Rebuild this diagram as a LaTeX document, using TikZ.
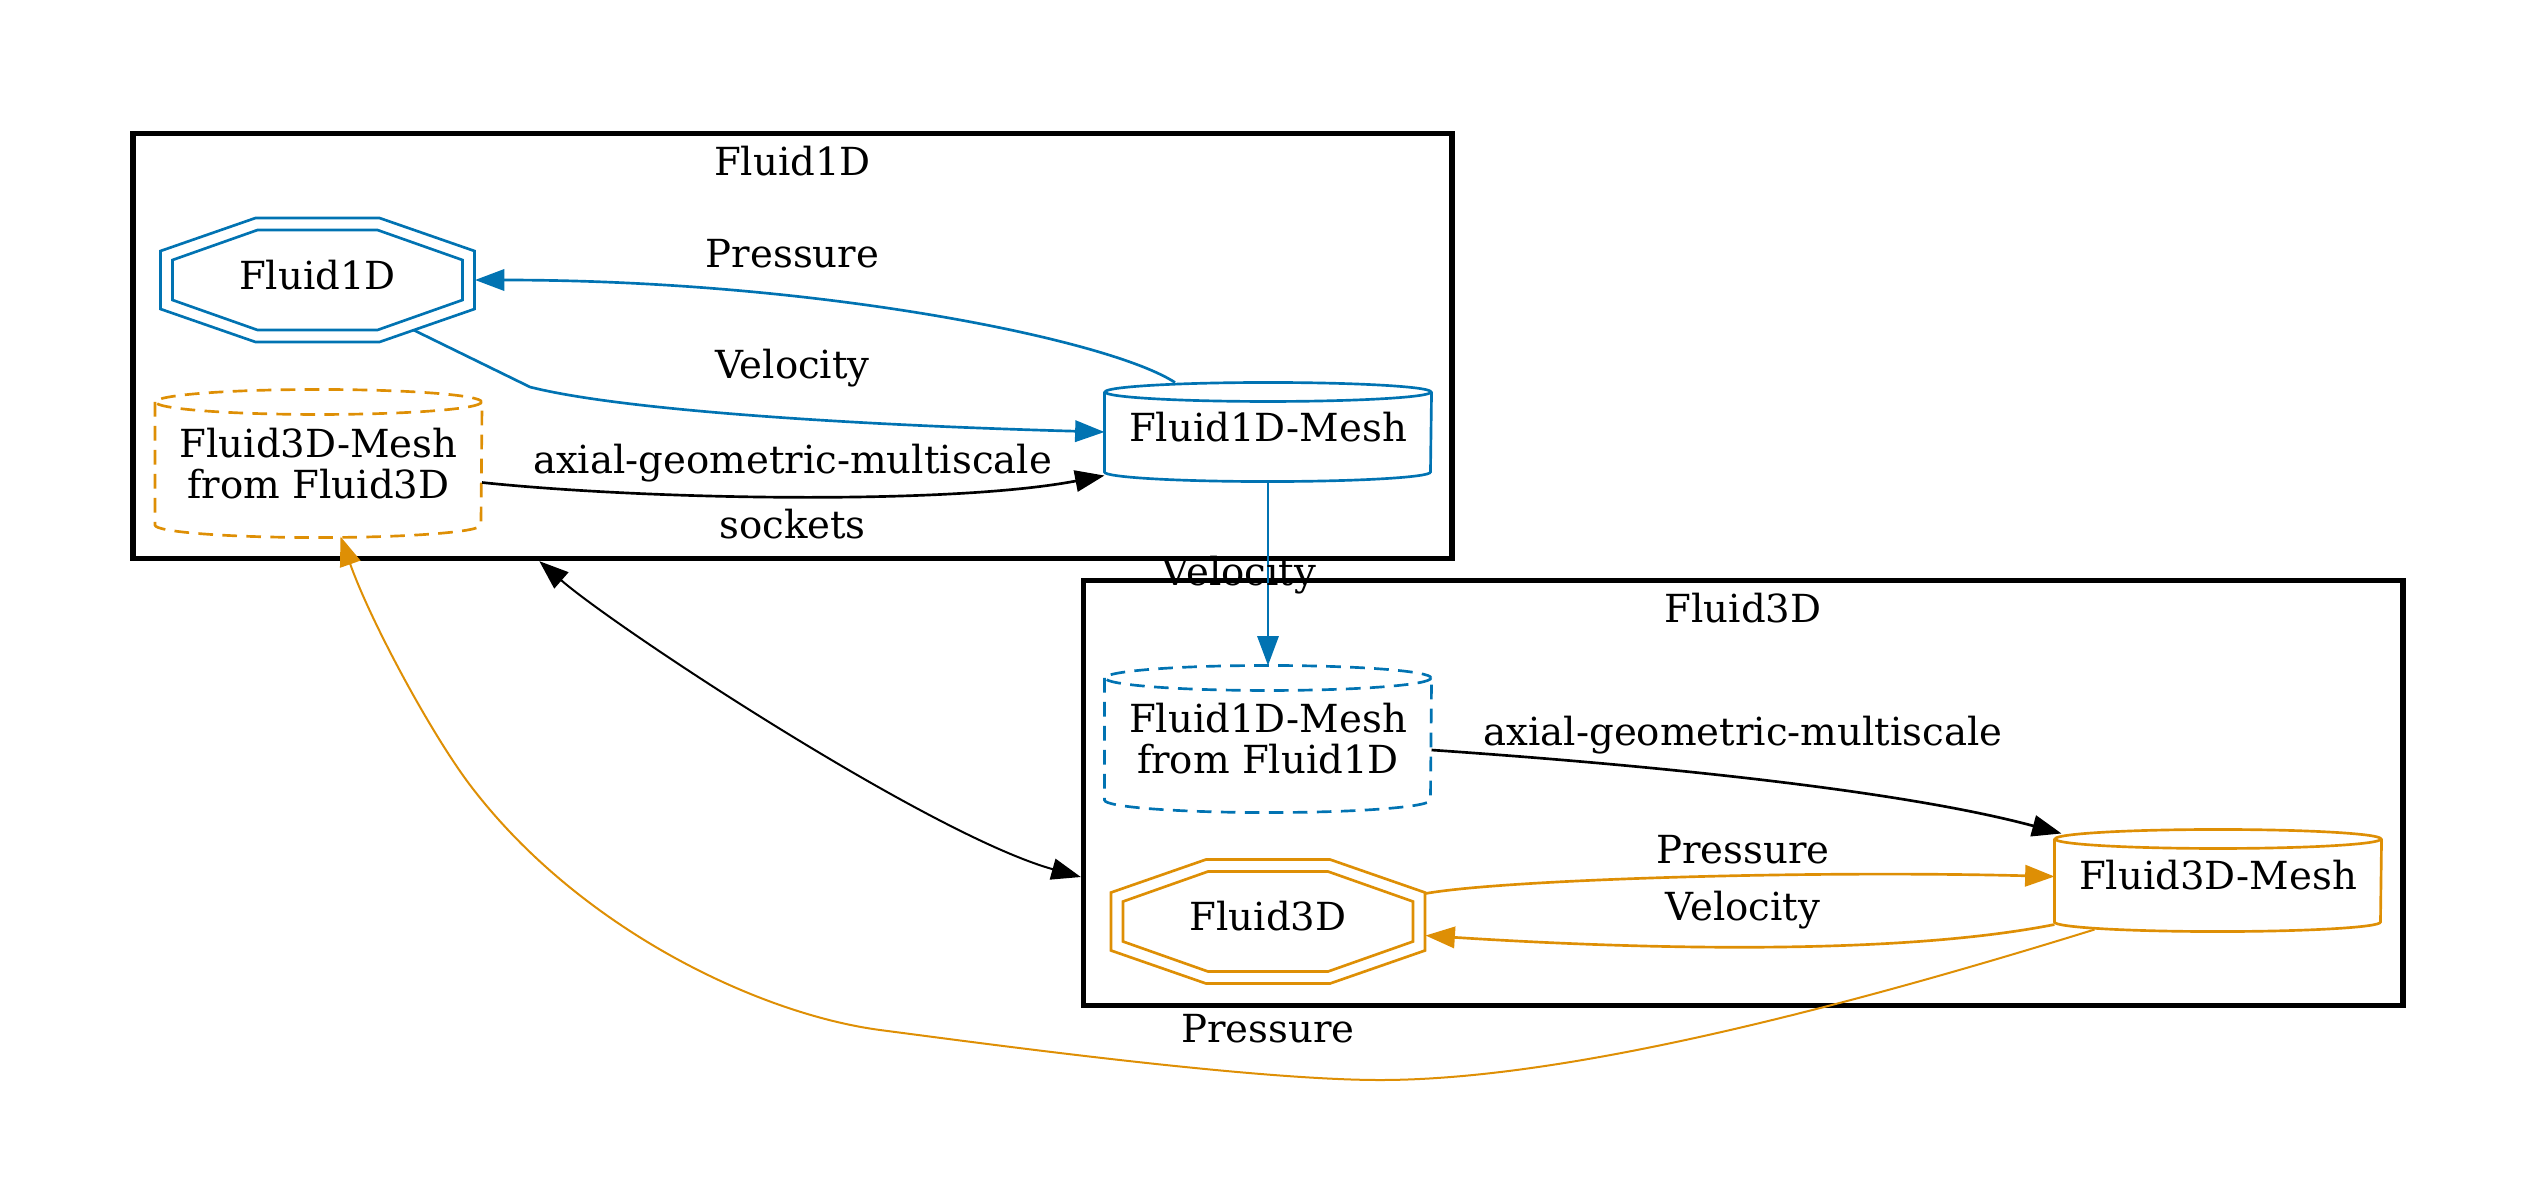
\documentclass[tikz,border=0pt]{standalone}
\usepackage{fontspec}
\setmainfont{DejaVu Serif}
\usepackage{tikz}
\usetikzlibrary{positioning,calc,fit,arrows.meta}
\definecolor{fblue}{HTML}{0173B2}
\definecolor{forange}{HTML}{DE8F05}
\newcommand{\pxu}{0.375pt}

\begin{document}
\begin{tikzpicture}[x=\pxu, y=-\pxu, >={Triangle[length=11pt,width=8pt]},
    every node/.style={font=\fontsize{14.5pt}{15.4pt}\selectfont, inner sep=0pt},
    oct/.style={minimum width=314*\pxu, minimum height=124*\pxu, text height=10.5pt, text depth=3.5pt},
    cyl/.style={minimum width=326*\pxu, text height=10.5pt, text depth=3.5pt},
    cyltwo/.style={minimum width=326*\pxu, align=center},
    cluster/.style={draw, line width=2pt},
    link/.style={->, line width=1pt},
    xlink/.style={line width=0.75pt},
    bluesolid/.style={draw=fblue, line width=1pt},
    orangesolid/.style={draw=forange, line width=1pt},
    bluedash/.style={draw=fblue, line width=1pt, dash pattern=on 5.5pt off 3.5pt},
    orangedash/.style={draw=forange, line width=1pt, dash pattern=on 5.5pt off 3.5pt}]
\useasboundingbox (0, 0) rectangle (2537, 1189);

\node[cluster, fit={(133, 133.5) (1452, 558.5)}] (cl1) {};
\node[cluster, fit={(1083.5, 580.5) (2403, 1005.5)}] (cl2) {};

\path (317.5, 280) node[oct] (f1) {Fluid1D};
\path (1268, 921.5) node[oct] (f3) {Fluid3D};
\path (1268, 432) node[cyl, minimum height=98*\pxu] (m1) {Fluid1D-Mesh};
\path (2218, 880.5) node[cyl, minimum height=101*\pxu] (m3) {Fluid3D-Mesh};
\path (318.5, 463.5) node[cyltwo, minimum height=147*\pxu] (m3f) {Fluid3D-Mesh\\from Fluid3D};
\path (1268, 739) node[cyltwo, minimum height=146*\pxu] (m1f) {Fluid1D-Mesh\\from Fluid1D};

\foreach \n/\c in {f1/fblue, f3/forange}{
    \draw[\c, line width=1pt] (\n.center) ++(-62, -62) -- ++(124, 0) -- ++(95, 33) -- ++(0, 58)
        -- ++(-95, 33) -- ++(-124, 0) -- ++(-95, -33) -- ++(0, -58) -- cycle;
    \draw[\c, line width=1pt] (\n.center) ++(-60, -50) -- ++(120, 0) -- ++(85, 30) -- ++(0, 40)
        -- ++(-85, 30) -- ++(-120, 0) -- ++(-85, -30) -- ++(0, -40) -- cycle;
};

\foreach \n/\s/\r in {m1/bluesolid/9.5, m3/orangesolid/9.5, m1f/bluedash/12.5, m3f/orangedash/12.5}{
    \draw[\s] ($(\n.north)+(0, \r)$) ellipse [x radius=163, y radius=\r];
    \draw[\s] ($(\n.north west)+(0, \r)$) -- ($(\n.south west)+(0, -\r)$)
        arc[start angle=180, end angle=0, x radius=163, y radius=\r] -- ($(\n.north east)+(0, \r)$);
};

% Fluid1D
\draw[link, fblue] ($(m1.north)+(-93, 0)$) .. controls (1110, 340) and (820, 280) .. (f1.east);
\draw[link, fblue] ($(f1.center)+(96, 50)$) -- (530, 387) .. controls (620, 410) and (850, 425) .. (m1.west);
\draw[link] ($(m3f.east)+(0, 19)$) .. controls (650, 500) and (950, 505) .. ($(m1.south west)+(0, -6)$);

% Fluid3D
\draw[link] ($(m1f.east)+(0, 11)$) .. controls (1650, 765) and (1900, 790) .. ($(m3.north west)+(7, 4)$);
\draw[link, forange] ($(f3.east)+(0, -28)$) .. controls (1500, 880) and (1800, 870) .. ($(m3.west)+(0, -4)$);
\draw[link, forange] ($(m3.west)+(0, 44)$) .. controls (1900, 955) and (1650, 950) .. ($(f3.east)+(0, 14)$);

\draw[xlink, fblue, ->] (m1.south) -- (m1f.north);
\draw[xlink, <->] ($(cl1.south west)+(409, 0)$) .. controls (616, 628) and (930, 835) .. ($(cl2.west)+(0, 84)$);
\draw[xlink, forange, ->] ($(m3.south west)+(40, -2)$) .. controls (1780, 1027) and (1540, 1080) .. (1380, 1080)
    .. controls (1250, 1080) and (980, 1043) .. (880, 1030)
    .. controls (760, 1014) and (580, 930) .. (470, 785)
    .. controls (430, 732) and (370, 620) .. ($(m3f.south)+(22, -1)$);

\foreach \x/\y/\t/\n in {792.5/175/Fluid1D/cl1-title, 1743/622/Fluid3D/cl2-title,
        792.5/267/Pressure/lp1, 792.5/378/Velocity/lv1, 792.5/473/axial-geometric-multiscale/la1,
        792.5/538/sockets/ls, 1239/585/Velocity/lv2, 1743/745/axial-geometric-multiscale/la2,
        1743/863/Pressure/lp2, 1743/920/Velocity/lv3, 1268/1042/Pressure/lp3}
    \path (\x, \y) node[anchor=base] (\n) {\t};
\end{tikzpicture}
\end{document}
